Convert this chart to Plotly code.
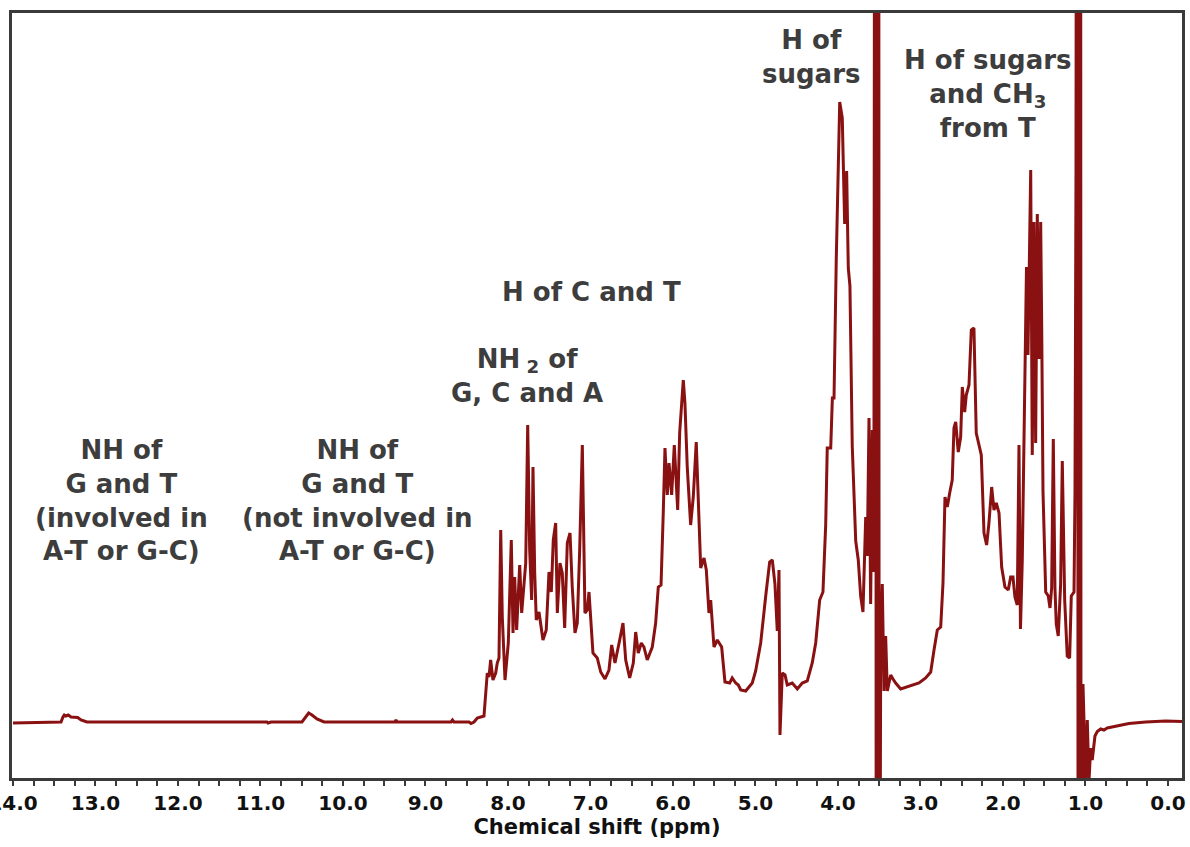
import plotly.graph_objects as go

# Chemical shift (ppm) and intensity (arbitrary units)
shift_ppm = [
    14.0, 13.685, 13.418, 13.394, 13.378, 13.358, 13.330, 13.297, 13.261, 13.216, 13.176, 13.103,
    12.352, 10.921, 10.909, 10.873, 10.497, 10.461, 10.416, 10.376, 10.315, 10.230,
    9.370, 9.358, 9.345, 8.691, 8.673, 8.655, 8.473, 8.448, 8.412, 8.372, 8.327, 8.291,
    8.251, 8.230, 8.210, 8.182, 8.149, 8.130, 8.109, 8.088, 8.069, 8.036, 7.996, 7.960,
    7.939, 7.919, 7.895, 7.858, 7.834, 7.806, 7.785, 7.761, 7.737, 7.713, 7.697, 7.676,
    7.657, 7.624, 7.576, 7.536, 7.503, 7.475, 7.451, 7.422, 7.402, 7.370, 7.342, 7.313,
    7.281, 7.248, 7.221, 7.188, 7.160, 7.131, 7.099, 7.067, 7.039, 7.018, 6.970, 6.918,
    6.876, 6.824, 6.776, 6.743, 6.703, 6.646, 6.606, 6.573, 6.525, 6.481, 6.452, 6.421,
    6.384, 6.352, 6.312, 6.251, 6.210, 6.178, 6.145, 6.118, 6.097, 6.069, 6.048, 6.016,
    5.984, 5.943, 5.919, 5.875, 5.855, 5.827, 5.786, 5.754, 5.718, 5.664, 5.624, 5.596,
    5.564, 5.543, 5.503, 5.463, 5.410, 5.370, 5.313, 5.282, 5.240, 5.208, 5.179, 5.119,
    5.039, 4.998, 4.937, 4.876, 4.828, 4.796, 4.764, 4.736, 4.715, 4.703, 4.675, 4.642,
    4.615, 4.554, 4.493, 4.433, 4.372, 4.312, 4.270, 4.222, 4.182, 4.149, 4.130, 4.088,
    4.068, 4.048, 4.021, 3.979, 3.948, 3.919, 3.895, 3.875, 3.855, 3.827, 3.785, 3.754,
    3.725, 3.697, 3.664, 3.645, 3.624, 3.604, 3.584, 3.565,
    3.545, 3.536, 3.527, 3.518, 3.509, 3.500,
    3.482, 3.463, 3.442, 3.422, 3.402, 3.361, 3.333, 3.301, 3.240, 3.160, 3.018, 2.937,
    2.876, 2.836, 2.796, 2.755, 2.727, 2.703, 2.675, 2.646, 2.615, 2.594, 2.573, 2.542,
    2.513, 2.493, 2.464, 2.445, 2.412, 2.384, 2.352, 2.324, 2.291, 2.263, 2.230, 2.198,
    2.170, 2.137, 2.109, 2.081, 2.048, 2.016, 1.976, 1.936, 1.907, 1.879, 1.855, 1.827,
    1.806, 1.788, 1.766, 1.745, 1.725, 1.715, 1.697, 1.664, 1.645, 1.624, 1.604, 1.584,
    1.564, 1.543, 1.531, 1.515, 1.482, 1.451, 1.430, 1.410, 1.390, 1.370, 1.354, 1.330,
    1.301, 1.281, 1.252, 1.221, 1.192, 1.172, 1.139, 1.127, 1.115,
    1.098, 1.089, 1.080, 1.071, 1.062, 1.053,
    1.030, 0.998, 0.978, 0.958, 0.937, 0.918, 0.885, 0.857, 0.816, 0.776, 0.736, 0.634,
    0.473, 0.270, 0.028, -0.170,
]

intensity = [
    -1, -0.5, 0, 5, 7, 6, 7, 5, 4.5, 4.5, 2, 0,
    0, 0, -1, 0, 0, 4, 9, 7, 3, 0,
    0, 2, 0, 0, 2, 0, 0, -1.5, 0, 4, 5, 6,
    49, 45, 62, 42, 49, 59, 64, 192, 105, 42, 79, 182,
    89, 145, 92, 157, 109, 139, 159, 297, 172, 122, 255, 149,
    102, 110, 82, 92, 150, 130, 182, 199, 109, 159, 149, 94,
    179, 189, 135, 89, 99, 172, 277, 109, 112, 130, 69, 64,
    50, 43, 52, 77, 59, 82, 99, 62, 44, 59, 90, 69,
    79, 75, 62, 75, 99, 135, 137, 209, 274, 227, 259, 227,
    277, 212, 289, 342, 319, 255, 197, 225, 280, 154, 164, 152,
    109, 122, 75, 82, 75, 40, 39, 44, 39, 37, 32, 31,
    39, 51, 79, 126, 160, 162, 138, 91, 152, -13, 49, 47,
    37, 39, 33, 39, 41, 59, 79, 122, 130, 197, 274, 274,
    324, 324, 462, 620, 604, 498, 551, 454, 436, 276, 181, 162,
    126, 110, 205, 166, 304, 118, 292, 150,
    2000, -500, 2000, -500, 2000, -500,
    79, 138, 31, 86, 31, 47, 43, 39, 33, 35, 39, 44,
    50, 72, 92, 95, 139, 225, 215, 229, 242, 294, 300, 270,
    285, 335, 310, 327, 337, 392, 394, 289, 277, 267, 189, 177,
    199, 235, 212, 219, 209, 155, 135, 132, 145, 145, 125, 117,
    277, 93, 162, 291, 391, 455, 367, 552, 267, 500, 279, 508,
    363, 500, 399, 231, 130, 126, 114, 134, 283, 134, 98, 86,
    138, 261, 122, 66, 64, 126, 130, 231, 548,
    2000, -500, 2000, -500, 2000, -500,
    38, -60, 2, -60, -26, -38, -14, -9.5, -7, -8, -6, -4,
    -1.5, 0, 1, 0.5,
]

tick_values = [14, 13, 12, 11, 10, 9, 8, 7, 6, 5, 4, 3, 2, 1, 0]
tick_labels = ["14.0", "13.0", "12.0", "11.0", "10.0", "9.0", "8.0", "7.0",
               "6.0", "5.0", "4.0", "3.0", "2.0", "1.0", "0.0"]

label_texts = [
    "NH of<br>G and T<br>(involved in<br>A-T or G-C)",
    "NH of<br>G and T<br>(not involved in<br>A-T or G-C)",
    "NH<sub> 2</sub> of<br>G, C and A",
    "H of C and T",
    "H of<br>sugars",
    "H of sugars<br>and CH<sub>3</sub><br>from T",
]
label_ppm = [12.69, 9.83, 7.77, 6.99, 4.33, 2.19]
label_int = [222, 222, 346, 430, 665, 628]

fig = go.Figure()
fig.add_trace(go.Scatter(
    x=shift_ppm, y=intensity, mode="lines",
    line=dict(color="#8a1111", width=3),
    hoverinfo="skip", showlegend=False,
))

for t, xv, yv in zip(label_texts, label_ppm, label_int):
    fig.add_annotation(
        x=xv, y=yv, text=t, showarrow=False, xref="x", yref="y",
        font=dict(family="DejaVu Sans", size=26, color="#3d3d3d", weight="bold"),
        align="center", xanchor="center", yanchor="middle",
    )

frame_color = "#3a3a3a"
fig.update_layout(
    width=1190, height=847,
    margin=dict(l=12, r=8, t=13, b=69),
    paper_bgcolor="white", plot_bgcolor="white",
    xaxis=dict(
        range=[14.012, -0.170], automargin=False,
        showline=True, mirror=True, linecolor=frame_color, linewidth=2.5,
        showgrid=False, zeroline=False,
        tickmode="array", tickvals=tick_values, ticktext=tick_labels,
        ticklabeloverflow="allow",
        ticks="outside", ticklen=5, tickwidth=2, tickcolor=frame_color,
        minor=dict(ticks="outside", dtick=0.25, tick0=0, ticklen=5,
                   tickwidth=2, tickcolor=frame_color, showgrid=False),
        tickfont=dict(family="DejaVu Sans", size=20, color="#111111", weight="bold"),
        title=dict(text="Chemical shift (ppm)", standoff=4,
                   font=dict(family="DejaVu Sans", size=21, color="#111111", weight="bold")),
    ),
    yaxis=dict(
        range=[-56, 709], automargin=False,
        showline=True, mirror=True, linecolor=frame_color, linewidth=2.5,
        showgrid=False, zeroline=False, showticklabels=False, ticks="",
    ),
)

fig.write_html("out.html", config={"displayModeBar": False},
               post_script="document.body.style.margin='0';")
